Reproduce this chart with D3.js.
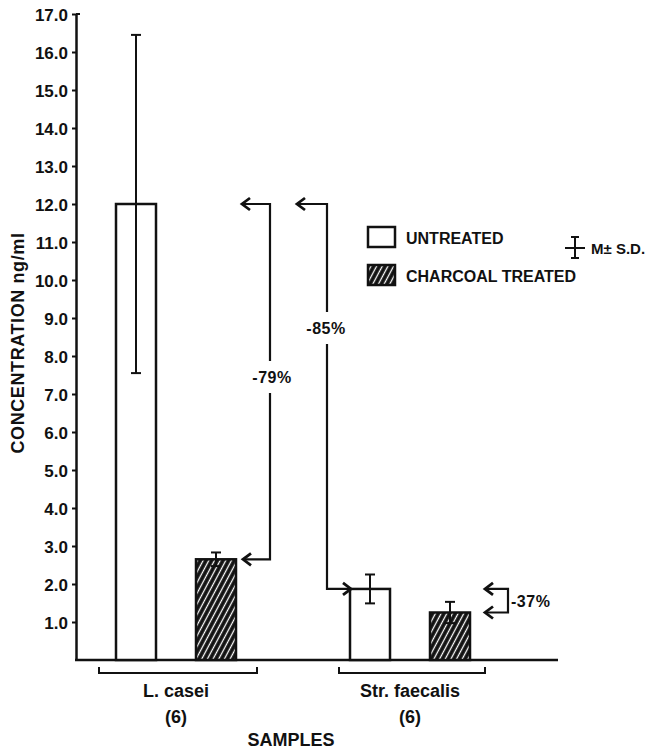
<!DOCTYPE html>
<html>
<head>
<meta charset="utf-8">
<script src="https://cdn.jsdelivr.net/npm/d3@7"></script>
<style>
  body { margin: 0; background: #fff; }
  svg text { font-family: "Liberation Sans", Arial, sans-serif; font-weight: bold; fill: #111; }
</style>
</head>
<body>
<svg id="chart" width="652" height="749"></svg>
<script>
// chart values
const groups = ["L. casei", "Str. faecalis"];
const groupN = ["(6)", "(6)"];
const series = ["UNTREATED", "CHARCOAL TREATED"];
const means = [[12.0, 2.65], [1.87, 1.25]];
const sds = [[4.45, 0.18], [0.38, 0.28]];
const yTicks = [1, 2, 3, 4, 5, 6, 7, 8, 9, 10, 11, 12, 13, 14, 15, 16, 17];
const changes = ["-79%", "-85%", "-37%"];

const svg = d3.select('#chart');
const ink = '#111';

const y = d3.scaleLinear().domain([0, 17]).range([660, 14]);
const x0 = d3.scaleBand().domain(groups).range([59, 527]);
const x1 = d3.scalePoint().domain(series).range([-40, 40]);
const barW = 40;
const cx = (g, s) => x0(g) + x0.bandwidth() / 2 + x1(s);

// hatch for charcoal treated
const defs = svg.append('defs');
const pat = defs.append('pattern')
  .attr('id', 'hatch')
  .attr('patternUnits', 'userSpaceOnUse')
  .attr('width', 5).attr('height', 5)
  .attr('patternTransform', 'rotate(28)');
pat.append('rect').attr('width', 5).attr('height', 5).attr('fill', ink);
pat.append('line').attr('x1', 2.5).attr('y1', 0).attr('x2', 2.5).attr('y2', 5)
  .attr('stroke', '#fff').attr('stroke-width', 1.3);

// y axis
const yAxis = svg.append('g')
  .attr('transform', 'translate(76,0)')
  .call(d3.axisLeft(y).tickValues(yTicks).tickFormat(d3.format('.1f')).tickSize(4).tickSizeOuter(0));
yAxis.select('.domain').attr('stroke', ink).attr('stroke-width', 2.5);
yAxis.selectAll('.tick line').attr('stroke', ink).attr('stroke-width', 2);
yAxis.selectAll('.tick text')
  .attr('x', -8)
  .attr('dy', '0.36em')
  .style('font-size', '17px')
  .style('font-family', '"Liberation Sans", Arial, sans-serif')
  .style('font-weight', 'bold')
  .attr('fill', ink);
// small cap at top of axis
svg.append('line').attr('x1', 76).attr('x2', 80).attr('y1', y(17)).attr('y2', y(17))
  .attr('stroke', ink).attr('stroke-width', 2);

// x axis line
svg.append('line').attr('x1', 75).attr('x2', 558).attr('y1', y(0)).attr('y2', y(0))
  .attr('stroke', ink).attr('stroke-width', 2.5);

svg.append('text')
  .attr('transform', `translate(24,${(y(0) + y(17)) / 2 + 6}) rotate(-90)`)
  .attr('text-anchor', 'middle')
  .style('font-size', '18px')
  .style('letter-spacing', '0.6px')
  .text('CONCENTRATION ng/ml');

// bars + error bars
groups.forEach((g, gi) => {
  series.forEach((s, si) => {
    const m = means[gi][si], sd = sds[gi][si];
    const c = cx(g, s);
    svg.append('rect')
      .attr('x', c - barW / 2).attr('y', y(m))
      .attr('width', barW).attr('height', y(0) - y(m))
      .attr('fill', si === 0 ? '#fff' : 'url(#hatch)')
      .attr('stroke', ink).attr('stroke-width', 2.5);
    const eb = svg.append('g').attr('stroke', ink).attr('stroke-width', 2);
    eb.append('line').attr('x1', c).attr('x2', c).attr('y1', y(m + sd)).attr('y2', y(m - sd));
    eb.append('line').attr('x1', c - 5).attr('x2', c + 5).attr('y1', y(m + sd)).attr('y2', y(m + sd));
    eb.append('line').attr('x1', c - 5).attr('x2', c + 5).attr('y1', y(m - sd)).attr('y2', y(m - sd));
  });

  // group bracket + labels
  const gc = x0(g) + x0.bandwidth() / 2 + 2;
  const half = gi === 0 ? 79 : 73;
  svg.append('path')
    .attr('d', `M${gc - half},667 V673 H${gc + half} V667`)
    .attr('fill', 'none').attr('stroke', ink).attr('stroke-width', 2);
  svg.append('text').attr('x', gc - 2).attr('y', 697).attr('text-anchor', 'middle')
    .style('font-size', '18px').text(g);
  svg.append('text').attr('x', gc - 2).attr('y', 723).attr('text-anchor', 'middle')
    .style('font-size', '18px').text(groupN[gi]);
});

svg.append('text').attr('x', 291).attr('y', 746).attr('text-anchor', 'middle')
  .style('font-size', '18px').text('SAMPLES');

// arrows for percent change
function arrowHead(tx, ty, dir) {
  // open chevron pointing left (dir=-1) or right (dir=1)
  const s = 8;
  return `M${tx - dir * s},${ty - 6} L${tx},${ty} L${tx - dir * s},${ty + 6}`;
}
function drawArrow(pts, heads) {
  svg.append('path')
    .attr('d', d3.line()(pts))
    .attr('fill', 'none').attr('stroke', ink).attr('stroke-width', 2.2);
  heads.forEach(h => {
    svg.append('path').attr('d', arrowHead(h[0], h[1], h[2]))
      .attr('fill', 'none').attr('stroke', ink).attr('stroke-width', 2.8)
      .attr('stroke-linejoin', 'miter');
  });
}
function gapLabel(txt, xc, yc, w) {
  svg.append('rect').attr('x', xc - w / 2).attr('y', yc - 16).attr('width', w).attr('height', 32).attr('fill', '#fff');
  svg.append('text').attr('x', xc).attr('y', yc + 6).attr('text-anchor', 'middle')
    .style('font-size', '16px').style('letter-spacing', '0.5px').text(txt);
}

const lcTop = y(means[0][0]), lcCh = y(means[0][1]);
const sfTop = y(means[1][0]), sfCh = y(means[1][1]);

// -79%
drawArrow([[243, lcTop], [270, lcTop], [270, lcCh], [243, lcCh]],
  [[242, lcTop, -1], [243, lcCh, -1]]);
gapLabel(changes[0], 272, 377, 54);

// -85%
drawArrow([[298, lcTop], [327, lcTop], [327, sfTop], [350, sfTop]],
  [[297, lcTop, -1], [351, sfTop, 1]]);
gapLabel(changes[1], 326, 328, 56);

// -37%
drawArrow([[486, sfTop], [508, sfTop], [508, sfCh], [486, sfCh]],
  [[485, sfTop, -1], [485, sfCh, -1]]);
svg.append('text').attr('x', 511).attr('y', 607)
  .style('font-size', '16px').style('letter-spacing', '0.5px').text(changes[2]);

// legend
const legend = svg.append('g');
series.forEach((s, i) => {
  const ly = 227 + i * 38;
  legend.append('rect').attr('x', 368).attr('y', ly).attr('width', 27).attr('height', 20)
    .attr('fill', i === 0 ? '#fff' : 'url(#hatch)').attr('stroke', ink).attr('stroke-width', 2.5);
  legend.append('text').attr('x', 406).attr('y', ly + 17)
    .style('font-size', '16px').text(s);
});
legend.append('line').attr('x1', 575).attr('x2', 575).attr('y1', 237).attr('y2', 258).attr('stroke', ink).attr('stroke-width', 2);
legend.append('line').attr('x1', 571).attr('x2', 579).attr('y1', 237).attr('y2', 237).attr('stroke', ink).attr('stroke-width', 2);
legend.append('line').attr('x1', 571).attr('x2', 579).attr('y1', 258).attr('y2', 258).attr('stroke', ink).attr('stroke-width', 2);
legend.append('line').attr('x1', 565).attr('x2', 585).attr('y1', 248).attr('y2', 248).attr('stroke', ink).attr('stroke-width', 2);
legend.append('text').attr('x', 591).attr('y', 254).style('font-size', '15px').text('M± S.D.');
</script>
</body>
</html>
